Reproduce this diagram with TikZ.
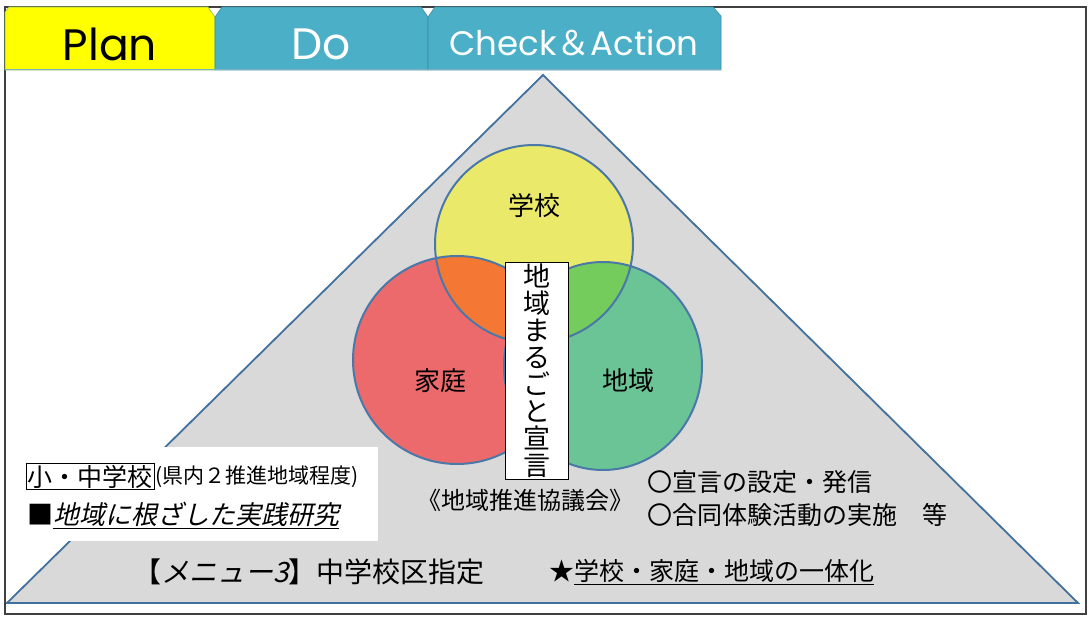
\documentclass[tikz,border=0pt]{standalone}
\usepackage{fontspec}
\newfontfamily\cjk{Noto Sans CJK JP}
\newfontfamily\cjkit[FakeSlant=0.22]{Noto Sans CJK JP}
\newfontfamily\pop{Poppins}
\definecolor{tabyel}{HTML}{FFFF00}
\definecolor{tabteal}{HTML}{4BAFC8}
\definecolor{tabedge}{HTML}{3C8FA5}
\definecolor{trifill}{HTML}{D9D9D9}
\definecolor{triedge}{HTML}{41719C}
\definecolor{cyel}{HTML}{EBE96A}
\definecolor{cred}{HTML}{EC6A6B}
\definecolor{cgrn}{HTML}{6BC495}
\definecolor{corg}{HTML}{F47733}
\definecolor{clgr}{HTML}{73CC5B}
\definecolor{cedge}{HTML}{4A78A8}
\definecolor{frame}{HTML}{404040}
\newcommand{\fsz}[1]{\fontsize{#1}{#1}\selectfont}
\begin{document}
\begin{tikzpicture}[x=1pt,y=-1pt,
  lab/.style={inner sep=0pt,font=\cjk\fsz{26},text=black},
  circ/.style={draw=cedge,line width=2pt},
  tabtxt/.style={inner sep=0pt,font=\pop\fsz{44}}]
\useasboundingbox (0,0) rectangle (1089,620);
\fill[white] (0,0) rectangle (1089,620);
% triangle
\path[fill=trifill,draw=triedge,line width=1.8pt,line join=miter]
  (543,75) -- (1078,603) -- (7,603) -- cycle;
% white area for lower-left text
\fill[white] (6,447) rectangle (378,541);
% circles
\coordinate (cy) at (534,244);
\coordinate (cr) at (457,360);
\coordinate (cg) at (603,366);
\fill[cyel] (cy) circle[radius=99pt];
\fill[cred] (cr) circle[radius=104pt];
\fill[cgrn] (cg) ellipse[x radius=99pt,y radius=104pt];
\begin{scope}
  \clip (cy) circle[radius=99pt];
  \fill[corg] (cr) circle[radius=104pt];
  \fill[clgr] (cg) ellipse[x radius=99pt,y radius=104pt];
\end{scope}
\draw[circ] (cy) circle[radius=99pt];
\draw[circ] (cr) circle[radius=104pt];
\draw[circ] (cg) ellipse[x radius=99pt,y radius=104pt];
\node[lab] (school) at (534,206) {学校};
\node[lab] (home) at (440,381) {家庭};
\node[lab] (area) at (628,381) {地域};
% declaration box
\node[draw=black,fill=white,line width=0.8pt,minimum width=63pt,minimum height=217pt,
  inner sep=0pt,align=center,font={\cjk\fontsize{27}{27}\selectfont}] (decl) at (536.5,370.5)
  {地\\域\\ま\\る\\ご\\と\\宣\\言};
% lower-left texts
\node[draw=black,line width=0.8pt,inner sep=1.5pt,anchor=west,font=\cjk\fsz{25}] (smj) at (26,476.5) {小・中学校};
\node[inner sep=0pt,anchor=west,font=\cjk\fsz{21}] (pref) at (smj.east) {(県内２推進地域程度)};
\node[inner sep=0pt,anchor=west,font=\cjk\fsz{26}] (res) at (27,515) {■\underline{\cjkit 地域に根ざした実践研究}};
\node[inner sep=0pt,anchor=west,font=\cjk\fsz{28}] (menu) at (133,572) {【{\cjkit メニュー3}】中学校区指定};
\node[inner sep=0pt,anchor=west,font=\cjk\fsz{25}] (unity) at (549,572) {★\underline{学校・家庭・地域の一体化}};
\node[inner sep=0pt,anchor=west,font=\cjk\fsz{24}] (council) at (417,500) {《地域推進協議会》};
\node[inner sep=0pt,anchor=west,font=\cjk\fsz{25}] (act1) at (647,482) {〇宣言の設定・発信};
\node[inner sep=0pt,anchor=west,font=\cjk\fsz{25}] (act2) at (647,515) {〇合同体験活動の実施　等};
% frame
\draw[frame,line width=1.2pt] (5,7) rectangle (1086,614);
% tabs
\path[fill=tabyel,draw=tabedge!60!tabyel,line width=0.6pt]
  (5,70) -- (5,12) -- (9,7) -- (208,7) -- (215,17) -- (215,70) -- cycle;
\path[fill=tabteal,draw=tabedge,line width=0.6pt]
  (215,70) -- (215,17) -- (222,7) -- (421,7) -- (428,17) -- (428,70) -- cycle;
\path[fill=tabteal,draw=tabedge,line width=0.6pt]
  (428,70) -- (428,17) -- (435,7) -- (713,7) -- (721,16) -- (721,70) -- cycle;
\draw[tabedge!70,line width=1pt] (5,70) -- (721,70);
\node[tabtxt,text=black] (plan) at (110,44) {Plan};
\node[tabtxt,text=white] (do) at (321,44) {Do};
\node[inner sep=0pt,text=white,font=\pop\fsz{34}] (ca) at (574,43) {Check{\cjk ＆}Action};
\end{tikzpicture}
\end{document}
